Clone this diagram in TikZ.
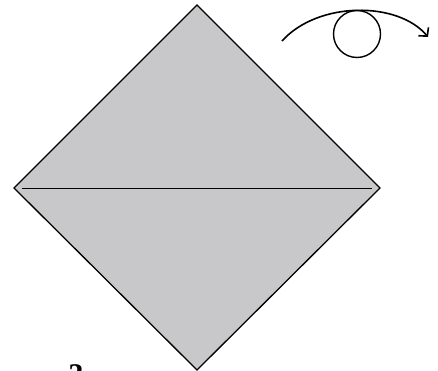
\documentclass[tikz,border=0pt]{standalone}
\usepackage{fontspec}
\setmainfont{Liberation Serif}
\usepackage{tikz}
\usetikzlibrary{arrows.meta,calc}
\definecolor{paper}{RGB}{200,200,203}

\begin{document}
\begin{tikzpicture}[
        x=1pt, y=-1pt,
        sheet/.style={draw, line width=1.3pt, fill=paper, line join=miter},
        crease/.style={line width=0.9pt},
        turn/.style={line width=1.6pt, -{Straight Barb[length=6pt,width=13pt,line width=1.6pt]}},
        loop/.style={line width=1.4pt},
        stepno/.style={font=\fontsize{30}{32}\selectfont\bfseries, anchor=north, inner sep=0pt}
    ]
    \useasboundingbox (0,0) rectangle (438,371);

    % Corners of the square sheet
    \coordinate (top) at (197,5);
    \coordinate (left) at (14,188);
    \coordinate (right) at (380,188);
    \coordinate (bottom) at (197,370);

    \draw[sheet] (top) -- (right) -- (bottom) -- (left) -- cycle;

    % Crease across the middle
    \coordinate (creaseL) at (22,188);
    \coordinate (creaseR) at (372,188);
    \draw[crease] (creaseL) -- (creaseR);

    % Turn-over symbol
    \coordinate (turnA) at (282,41);
    \coordinate (turnB) at (428,37);
    \draw[turn] (turnA) .. controls (318,1) and (398,1) .. (turnB);
    \node[loop, draw, circle, minimum size=47pt, inner sep=0pt] (eye) at (357,34) {};

    % Step number (cut by the lower edge)
    \node[stepno] (num) at (76,364) {3};
\end{tikzpicture}
\end{document}
